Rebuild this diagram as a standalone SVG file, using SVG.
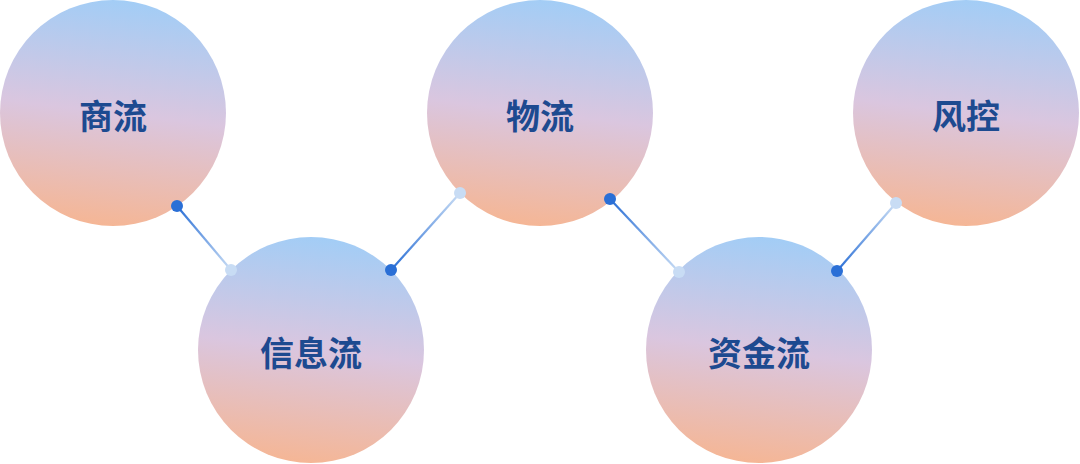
<svg xmlns="http://www.w3.org/2000/svg" width="1080" height="464" viewBox="0 0 1080 464">
<defs>
<linearGradient id="cg" x1="0.56" y1="0" x2="0.44" y2="1">
<stop offset="0" stop-color="#a2cdf6"/>
<stop offset="0.5" stop-color="#dac6df"/>
<stop offset="1" stop-color="#f5b695"/>
</linearGradient>
<linearGradient id="lg1" gradientUnits="userSpaceOnUse" x1="177" y1="206" x2="231" y2="270"><stop offset="0" stop-color="#2a6fd6"/><stop offset="1" stop-color="#c8dcf4"/></linearGradient>
<linearGradient id="lg2" gradientUnits="userSpaceOnUse" x1="391" y1="270" x2="460" y2="193"><stop offset="0" stop-color="#2a6fd6"/><stop offset="1" stop-color="#c8dcf4"/></linearGradient>
<linearGradient id="lg3" gradientUnits="userSpaceOnUse" x1="610" y1="199" x2="679" y2="272"><stop offset="0" stop-color="#2a6fd6"/><stop offset="1" stop-color="#c8dcf4"/></linearGradient>
<linearGradient id="lg4" gradientUnits="userSpaceOnUse" x1="837" y1="271" x2="896" y2="203"><stop offset="0" stop-color="#2a6fd6"/><stop offset="1" stop-color="#c8dcf4"/></linearGradient>
</defs>
<style>
.c{fill:url(#cg)}
.t{font-family:"Noto Sans CJK SC","Noto Sans CJK JP",sans-serif;font-size:34px;font-weight:700;fill:#1d4a90;text-anchor:middle;dominant-baseline:central}
.ln{stroke-width:2.2;fill:none}
.dd{fill:#2a6fd6}
.ld{fill:#c8dcf4}
</style>
<g id="n1"><circle class="c" cx="113" cy="113" r="113"/><text class="t" x="113" y="114">商流</text></g>
<g id="n2"><circle class="c" cx="311" cy="350" r="113"/><text class="t" x="311" y="351">信息流</text></g>
<g id="n3"><circle class="c" cx="540" cy="113" r="113"/><text class="t" x="540" y="114">物流</text></g>
<g id="n4"><circle class="c" cx="759" cy="350" r="113"/><text class="t" x="759" y="351">资金流</text></g>
<g id="n5"><circle class="c" cx="966" cy="113" r="113"/><text class="t" x="966" y="114">风控</text></g>
<g id="connectors">
<line class="ln" stroke="url(#lg1)" x1="177" y1="206" x2="231" y2="270"/>
<line class="ln" stroke="url(#lg2)" x1="391" y1="270" x2="460" y2="193"/>
<line class="ln" stroke="url(#lg3)" x1="610" y1="199" x2="679" y2="272"/>
<line class="ln" stroke="url(#lg4)" x1="837" y1="271" x2="896" y2="203"/>
<circle class="dd" cx="177" cy="206" r="6"/><circle class="ld" cx="231" cy="270" r="6"/>
<circle class="dd" cx="391" cy="270" r="6"/><circle class="ld" cx="460" cy="193" r="6"/>
<circle class="dd" cx="610" cy="199" r="6"/><circle class="ld" cx="679" cy="272" r="6"/>
<circle class="dd" cx="837" cy="271" r="6"/><circle class="ld" cx="896" cy="203" r="6"/>
</g>
</svg>
